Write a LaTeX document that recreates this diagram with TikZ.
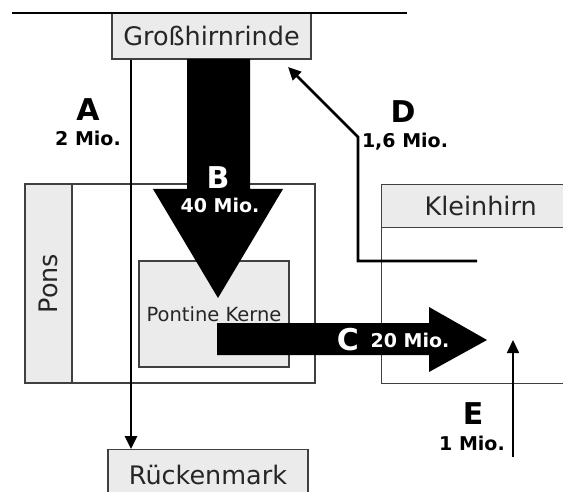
\documentclass[tikz,border=0pt]{standalone}
\usepackage{fontspec}
\setmainfont{DejaVu Sans}
\usetikzlibrary{arrows.meta}
\definecolor{boxgray}{HTML}{EBEBEB}
\definecolor{edgegray}{HTML}{404040}

\begin{document}
\begin{tikzpicture}[x=1pt,y=-1pt,>={Triangle[width=12pt,length=13pt]},
 region/.style={draw=edgegray,line width=1.3pt,inner sep=0pt,text=black!85,
   font=\fontsize{25.5}{25.5}\selectfont},
 letter/.style={font=\fontsize{30}{30}\selectfont\bfseries},
 count/.style={font=\fontsize{19}{19}\selectfont\bfseries},
 tract/.style={line width=2.6pt}]
\useasboundingbox (0,0) rectangle (563,492);
\clip (0,0) rectangle (563,492);
% regions
\node[region,fill=boxgray,minimum width=199pt,minimum height=46pt] (gross) at (211.5,36) {Großhirnrinde};
\node[region,fill=boxgray,minimum width=200pt,minimum height=50pt,anchor=north] (ruecken) at (208,449) {Rückenmark};
\node[region,minimum width=290pt,minimum height=199pt] (pons) at (170,283.5) {};
\node[region,fill=boxgray,rotate=90,minimum width=199pt,minimum height=47pt] (ponslabel) at (48.5,283.5) {Pons};
\node[region,fill=boxgray,minimum width=150pt,minimum height=106pt,font=\fontsize{19.5}{19.5}\selectfont] (pontine) at (214,314) {Pontine Kerne};
\node[region,minimum width=198pt,minimum height=199pt,anchor=north west] (klein) at (381,184) {};
\node[region,fill=boxgray,minimum width=198pt,minimum height=43pt,anchor=north west] (kleinlabel) at (klein.north west) {Kleinhirn};
\draw[line width=1.5pt] (12,13) -- (407,13);
% A
\coordinate (ax) at (131,0);
\draw[tract,->] (gross.south -| ax) -- (ruecken.north -| ax);
\node[letter] (alet) at (88,110) {A};
\node[count] (anum) at (88,138) {2 Mio.};
% B
\fill (187,59) -- (250,59) -- (250,189) -- (283,189) -- (218,298) -- (153,189) -- (187,189) -- cycle;
\node[letter,text=white] (blet) at (218,178) {B};
\node[count,text=white] (bnum) at (220,205) {40 Mio.};
% C
\fill (217,323) -- (429,323) -- (429,307) -- (487,340) -- (429,372) -- (429,355) -- (217,355) -- cycle;
\node[letter,text=white] (clet) at (348,340) {C};
\node[count,text=white] (cnum) at (410,340) {20 Mio.};
% D
\coordinate (dfrom) at (477,261);
\coordinate (dto) at (288,67);
\draw[tract,->] (dfrom) -- (358,261) -- (358,137) -- (dto);
\node[letter] (dlet) at (403,112) {D};
\node[count] (dnum) at (405,142) {1,6 Mio.};
% E
\coordinate (efrom) at (513,457);
\coordinate (eto) at (513,340);
\draw[line width=1.7pt,->] (efrom) -- (eto);
\node[letter] (elet) at (473,414) {E};
\node[count] (enum) at (472,443) {1 Mio.};
\end{tikzpicture}
\end{document}
